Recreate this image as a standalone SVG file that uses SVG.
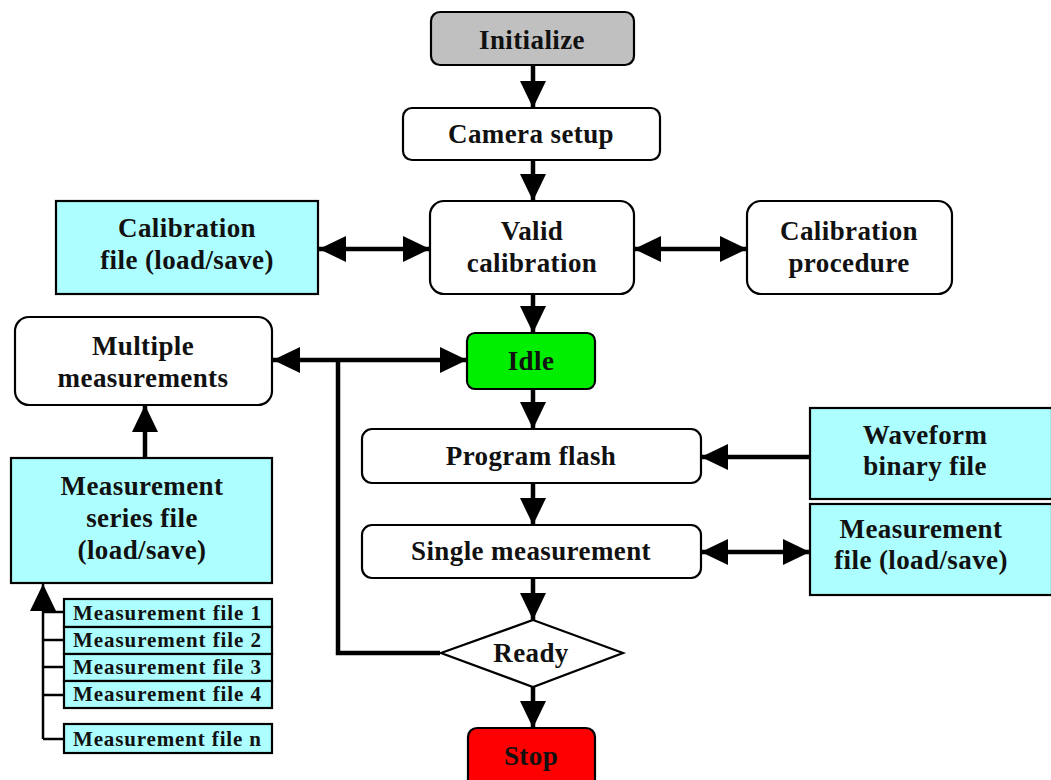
<svg xmlns="http://www.w3.org/2000/svg" width="1051" height="780" viewBox="0 0 1051 780">
<style>
.box{stroke:#000;stroke-width:2.2}
.w{fill:#fff}
.c{fill:#adffff}
.t{font-family:"Liberation Serif","Times New Roman",serif;font-weight:bold;font-size:27px;letter-spacing:0.4px;fill:#111;text-anchor:middle}
.s{font-family:"Liberation Serif","Times New Roman",serif;font-weight:bold;font-size:21px;fill:#111}
.ln{stroke:#000;stroke-width:4.5;fill:none}
.thin{stroke:#000;stroke-width:2.5;fill:none}
</style>
<defs>
<marker id="ah" markerUnits="userSpaceOnUse" markerWidth="27" markerHeight="26" viewBox="0 0 27 26" refX="27" refY="13" orient="auto-start-reverse">
<path d="M0,0 L27,13 L0,26 z" fill="#000"/>
</marker>
</defs>
<rect width="1051" height="780" fill="#fff"/>
<g id="connectors">
<line class="ln" x1="533" y1="65" x2="533" y2="108" marker-end="url(#ah)"/>
<line class="ln" x1="533" y1="160" x2="533" y2="201" marker-end="url(#ah)"/>
<line class="ln" x1="319" y1="249" x2="430" y2="249" marker-start="url(#ah)" marker-end="url(#ah)"/>
<line class="ln" x1="634" y1="249" x2="747" y2="249" marker-start="url(#ah)" marker-end="url(#ah)"/>
<line class="ln" x1="533" y1="294" x2="533" y2="333" marker-end="url(#ah)"/>
<line class="ln" x1="273" y1="360" x2="467" y2="360" marker-start="url(#ah)" marker-end="url(#ah)"/>
<polyline class="ln" points="338,360 338,653 440,653"/>
<line class="ln" x1="533" y1="389" x2="533" y2="429" marker-end="url(#ah)"/>
<line class="ln" x1="810" y1="457" x2="701" y2="457" marker-end="url(#ah)"/>
<line class="ln" x1="533" y1="483" x2="533" y2="525" marker-end="url(#ah)"/>
<line class="ln" x1="701" y1="552" x2="810" y2="552" marker-start="url(#ah)" marker-end="url(#ah)"/>
<line class="ln" x1="533" y1="578" x2="533" y2="620" marker-end="url(#ah)"/>
<line class="ln" x1="533" y1="687" x2="533" y2="728" marker-end="url(#ah)"/>
<line class="ln" x1="145" y1="458" x2="145" y2="405" marker-end="url(#ah)"/>
<line class="thin" x1="43" y1="739" x2="43" y2="584" marker-end="url(#ah)"/>
<line class="thin" x1="43" y1="612" x2="64" y2="612"/>
<line class="thin" x1="43" y1="640" x2="64" y2="640"/>
<line class="thin" x1="43" y1="667" x2="64" y2="667"/>
<line class="thin" x1="43" y1="695" x2="64" y2="695"/>
<polyline class="thin" points="43,739 64,739"/>
</g>
<g id="initialize">
<rect class="box" x="431" y="12" width="203" height="53" rx="9" fill="#c0c0c0"/>
<text class="t" x="532" y="49">Initialize</text>
</g>
<g id="camera-setup">
<rect class="box w" x="403" y="108" width="257" height="52" rx="9"/>
<text class="t" x="531" y="143">Camera setup</text>
</g>
<g id="valid-calibration">
<rect class="box w" x="430" y="201" width="204" height="93" rx="14"/>
<text class="t" x="532" y="240">Valid</text>
<text class="t" x="532" y="272">calibration</text>
</g>
<g id="calibration-file">
<rect class="box c" x="56" y="201" width="262" height="93"/>
<text class="t" x="187" y="237">Calibration</text>
<text class="t" x="187" y="269">file (load/save)</text>
</g>
<g id="calibration-procedure">
<rect class="box w" x="747" y="201" width="205" height="93" rx="14"/>
<text class="t" x="849" y="240">Calibration</text>
<text class="t" x="849" y="272">procedure</text>
</g>
<g id="multiple-measurements">
<rect class="box w" x="15" y="317" width="257" height="88" rx="14"/>
<text class="t" x="143" y="355">Multiple</text>
<text class="t" x="143" y="387">measurements</text>
</g>
<g id="idle">
<rect class="box" x="467" y="333" width="128" height="56" rx="8" fill="#00ee00"/>
<text class="t" x="531" y="370">Idle</text>
</g>
<g id="program-flash">
<rect class="box w" x="362" y="429" width="339" height="54" rx="10"/>
<text class="t" x="531" y="465">Program flash</text>
</g>
<g id="waveform-binary-file">
<rect class="box c" x="810" y="408" width="242" height="91"/>
<text class="t" x="925" y="444">Waveform</text>
<text class="t" x="925" y="475">binary file</text>
</g>
<g id="single-measurement">
<rect class="box w" x="362" y="525" width="339" height="53" rx="10"/>
<text class="t" x="531" y="560">Single measurement</text>
</g>
<g id="measurement-file">
<rect class="box c" x="810" y="504" width="242" height="91"/>
<text class="t" x="921" y="538">Measurement</text>
<text class="t" x="921" y="569">file (load/save)</text>
</g>
<g id="ready">
<polygon class="box w" points="533,620 623,653 533,687 441,653"/>
<text class="t" x="531" y="662">Ready</text>
</g>
<g id="stop">
<rect class="box" x="468" y="728" width="127" height="60" rx="9" fill="#ff0000"/>
<text class="t" x="531" y="765">Stop</text>
</g>
<g id="measurement-series-file">
<rect class="box c" x="11" y="458" width="261" height="125"/>
<text class="t" x="142" y="495">Measurement</text>
<text class="t" x="142" y="527">series file</text>
<text class="t" x="142" y="559">(load/save)</text>
</g>
<g id="measurement-file-1">
<rect class="box c" x="64" y="599" width="208" height="28"/>
<text class="s" x="73" y="620" textLength="188" lengthAdjust="spacing">Measurement file  1</text>
</g>
<g id="measurement-file-2">
<rect class="box c" x="64" y="627" width="208" height="27"/>
<text class="s" x="73" y="647" textLength="188" lengthAdjust="spacing">Measurement file  2</text>
</g>
<g id="measurement-file-3">
<rect class="box c" x="64" y="654" width="208" height="27"/>
<text class="s" x="73" y="674" textLength="188" lengthAdjust="spacing">Measurement file  3</text>
</g>
<g id="measurement-file-4">
<rect class="box c" x="64" y="681" width="208" height="27"/>
<text class="s" x="73" y="701" textLength="188" lengthAdjust="spacing">Measurement file  4</text>
</g>
<g id="measurement-file-n">
<rect class="box c" x="64" y="724" width="208" height="29"/>
<text class="s" x="73" y="746" textLength="188" lengthAdjust="spacing">Measurement file  n</text>
</g>
</svg>
